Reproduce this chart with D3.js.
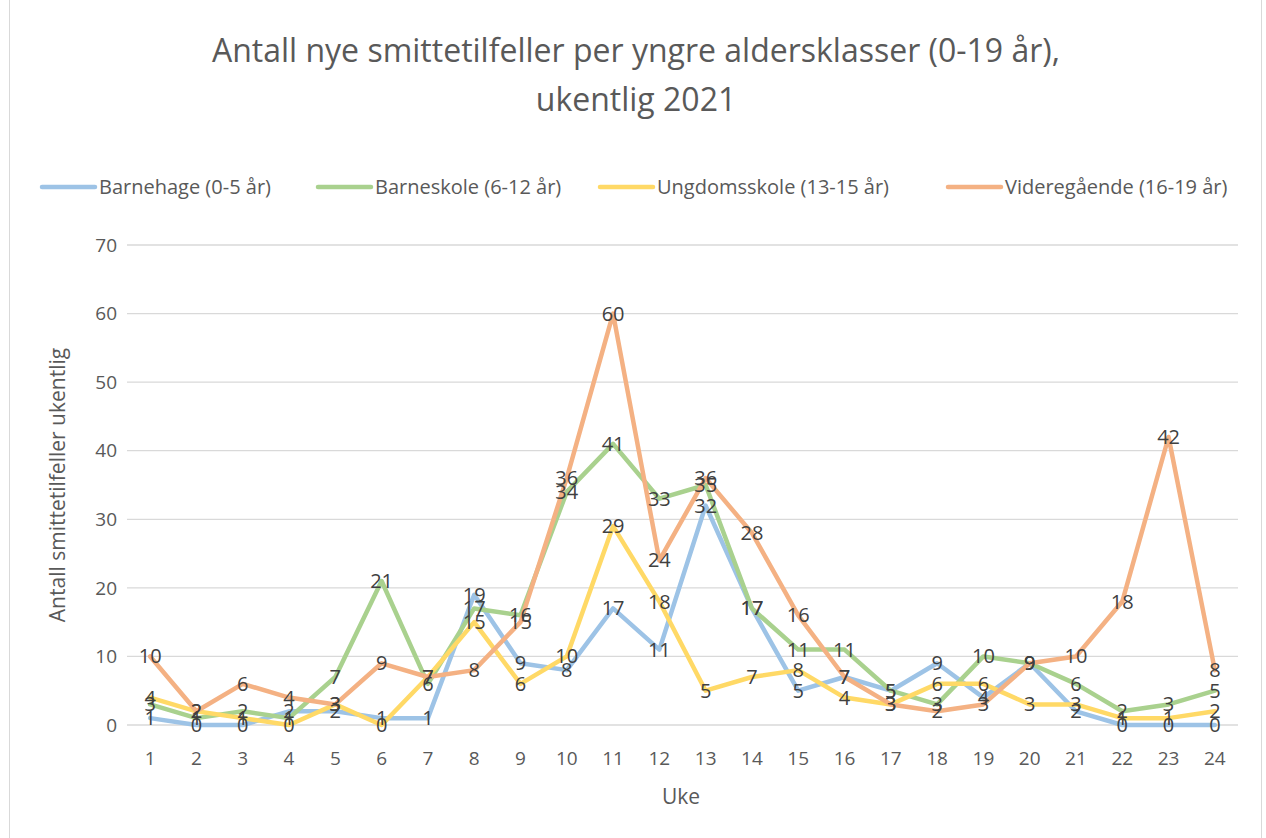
<!DOCTYPE html>
<html>
<head>
<meta charset="utf-8">
<script src="https://cdn.jsdelivr.net/npm/d3@7"></script>
<style>
  body { margin: 0; background: #fff; }
  text { font-family: "Open Sans", "Liberation Sans", sans-serif; }
</style>
</head>
<body>
<svg width="1266" height="838"></svg>
<script>
// Weekly new cases, younger age groups, 2021
const weeks = d3.range(1, 25);
const seriesNames = ["Barnehage (0-5 år)", "Barneskole (6-12 år)", "Ungdomsskole (13-15 år)", "Videregående (16-19 år)"];
const barnehage = [1, 0, 0, 2, 2, 1, 1, 19, 9, 8, 17, 11, 32, 17, 5, 7, 5, 9, 4, 9, 2, 0, 0, 0];
const barneskole = [3, 1, 2, 1, 7, 21, 6, 17, 16, 34, 41, 33, 35, 17, 11, 11, 5, 3, 10, 9, 6, 2, 3, 5];
const ungdomsskole = [4, 2, 1, 0, 3, 0, 7, 15, 6, 10, 29, 18, 5, 7, 8, 4, 3, 6, 6, 3, 3, 1, 1, 2];
const videregaende = [10, 2, 6, 4, 3, 9, 7, 8, 15, 36, 60, 24, 36, 28, 16, 7, 3, 2, 3, 9, 10, 18, 42, 8];
const yTicks = [0, 10, 20, 30, 40, 50, 60, 70];
const colors = ["#9DC3E6", "#A9D18E", "#FFD966", "#F4B183"];

const svg = d3.select("svg"),
    width = +svg.attr("width"),
    height = +svg.attr("height");

const allSeries = [barnehage, barneskole, ungdomsskole, videregaende];

// Chart frame
svg.append("rect")
   .attr("x", 9.5).attr("y", -1)
   .attr("width", 1252).attr("height", height + 2)
   .attr("fill", "none").attr("stroke", "#d9d9d9");

// Title
const title = svg.append("text")
   .attr("text-anchor", "middle")
   .attr("fill", "#595959")
   .style("font-size", "32px");
title.append("tspan").attr("x", 636).attr("y", 62).text("Antall nye smittetilfeller per yngre aldersklasser (0-19 år),");
title.append("tspan").attr("x", 636).attr("y", 111).text("ukentlig 2021");

// Scales
const x = d3.scaleBand().domain(weeks).range([127, 1238]);
const y = d3.scaleLinear().domain([0, 70]).range([725, 245]);
const cx = d => x(d) + x.bandwidth() / 2;

// Gridlines
svg.append("g")
   .selectAll("line")
   .data(yTicks)
   .join("line")
   .attr("x1", 127).attr("x2", 1238)
   .attr("y1", d => y(d)).attr("y2", d => y(d))
   .attr("stroke", "#d9d9d9").attr("stroke-width", 1.3);

// Y axis labels
svg.append("g")
   .selectAll("text")
   .data(yTicks)
   .join("text")
   .attr("x", 117).attr("y", d => y(d))
   .attr("dy", "0.35em")
   .attr("text-anchor", "end")
   .attr("fill", "#595959")
   .style("font-size", "19px")
   .text(d => d);

// X axis labels
svg.append("g")
   .selectAll("text")
   .data(weeks)
   .join("text")
   .attr("x", d => cx(d)).attr("y", 758)
   .attr("dy", "0.35em")
   .attr("text-anchor", "middle")
   .attr("fill", "#595959")
   .style("font-size", "19px")
   .text(d => d);

// Axis titles
svg.append("text")
   .attr("x", 681).attr("y", 797).attr("dy", "0.35em")
   .attr("text-anchor", "middle").attr("fill", "#595959")
   .style("font-size", "21px")
   .text("Uke");
svg.append("text")
   .attr("transform", "translate(58,485) rotate(-90)")
   .attr("dy", "0.35em")
   .attr("text-anchor", "middle").attr("fill", "#595959")
   .style("font-size", "21px")
   .text("Antall smittetilfeller ukentlig");

// Lines
const line = d3.line()
   .x((d, i) => cx(weeks[i]))
   .y(d => y(d));

svg.append("g")
   .selectAll("path")
   .data(allSeries)
   .join("path")
   .attr("d", line)
   .attr("fill", "none")
   .attr("stroke", (d, i) => colors[i])
   .attr("stroke-width", 4.5)
   .attr("stroke-linejoin", "round")
   .attr("stroke-linecap", "round");

// Data labels, centered on each point
allSeries.forEach(function (s) {
    svg.append("g")
       .selectAll("text")
       .data(s)
       .join("text")
       .attr("x", (d, i) => cx(weeks[i]))
       .attr("y", d => y(d))
       .attr("dy", "0.35em")
       .attr("text-anchor", "middle")
       .attr("fill", "#404040")
       .style("font-size", "20px")
       .text(d => d);
});

// Legend
const legendX = [42, 318, 600, 948];
const legend = svg.append("g")
   .selectAll("g")
   .data(seriesNames)
   .join("g")
   .attr("transform", (d, i) => "translate(" + legendX[i] + ",187)");
legend.append("line")
   .attr("x1", 0).attr("x2", 53)
   .attr("stroke", (d, i) => colors[i])
   .attr("stroke-width", 4.5)
   .attr("stroke-linecap", "round");
legend.append("text")
   .attr("x", 57).attr("dy", "0.35em")
   .attr("fill", "#595959")
   .style("font-size", "20px")
   .text(d => d);
</script>
</body>
</html>
